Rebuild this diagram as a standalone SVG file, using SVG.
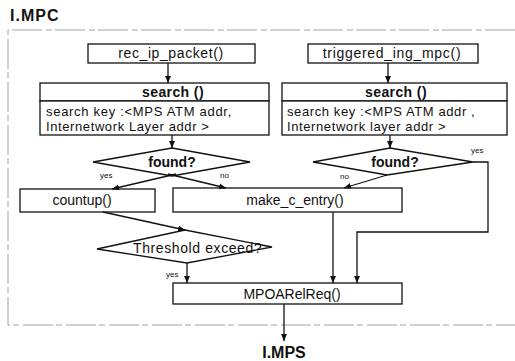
<svg xmlns="http://www.w3.org/2000/svg" width="515" height="361" viewBox="0 0 515 361">
<style>
text{font-family:"Liberation Sans",Arial,sans-serif;fill:#111}
.t{font-size:14px}
.b{font-weight:bold}
.k{font-size:13px}
.c{text-anchor:middle}
.lb{font-size:8px}
.h{font-size:16px;font-weight:bold}
.box{fill:#fff;stroke:#111;stroke-width:1.3}
.ln{fill:none;stroke:#111;stroke-width:1.3}
.frame{fill:none;stroke:#999;stroke-width:0.9;stroke-dasharray:30 3 6 4}
</style>
<defs>
<marker id="ah" markerWidth="8" markerHeight="8" refX="7" refY="4" orient="auto" markerUnits="userSpaceOnUse">
<path d="M0,1 L7,4 L0,7 Z" fill="#111"/>
</marker>
</defs>
<rect width="515" height="361" fill="#fff"/>
<text class="h" x="10" y="21" letter-spacing="1">I.MPC</text>
<path class="frame" d="M515,30 H8 V325 H515"/>

<g id="rec_ip_packet">
<rect class="box" x="88" y="44" width="167" height="19"/>
<text class="t c" x="171" y="58" letter-spacing="0.6">rec_ip_packet()</text>
</g>
<g id="triggered_ing_mpc">
<rect class="box" x="308" y="44" width="170" height="19"/>
<text class="t c" x="392" y="58" letter-spacing="0.7">triggered_ing_mpc()</text>
</g>
<g id="search_left">
<rect class="box" x="40" y="83" width="229" height="18"/>
<rect class="box" x="40" y="101" width="229" height="34"/>
<text class="t b c" x="173" y="97" letter-spacing="0.4">search ()</text>
<text class="k" x="46" y="116" letter-spacing="0.7">search key :&lt;MPS ATM addr,</text>
<text class="k" x="46" y="131" letter-spacing="0.6">Internetwork Layer  addr &gt;</text>
</g>
<g id="search_right">
<rect class="box" x="282" y="83" width="225" height="18"/>
<rect class="box" x="282" y="101" width="225" height="34"/>
<text class="t b c" x="396" y="97" letter-spacing="0.4">search ()</text>
<text class="k" x="287" y="116" letter-spacing="0.6">search key :&lt;MPS ATM addr ,</text>
<text class="k" x="287" y="131" letter-spacing="0.6">Internetwork layer addr &gt;</text>
</g>
<g id="found_left">
<polygon class="box" points="93,162 172,148 250,162 172,176"/>
<text class="t b c" x="172" y="167">found?</text>
</g>
<g id="found_right">
<polygon class="box" points="313,162 390,148 473,162 387,175"/>
<text class="t b c" x="395" y="167">found?</text>
</g>
<g id="countup">
<rect class="box" x="20" y="189" width="135" height="23"/>
<text class="t c" x="82" y="205">countup()</text>
</g>
<g id="make_c_entry">
<rect class="box" x="173" y="188" width="229" height="24"/>
<text class="t c" x="295" y="205">make_c_entry()</text>
</g>
<g id="threshold">
<polygon class="box" points="97,249 185,230 272,247 187,263"/>
<text class="t" x="133" y="253" font-size="15" letter-spacing="0.6">Threshold exceed?</text>
</g>
<g id="mpoarelreq">
<rect class="box" x="173" y="283" width="229" height="21"/>
<text class="t c" x="292" y="299">MPOARelReq()</text>
</g>
<text class="h c" x="284" y="358" font-size="15">I.MPS</text>

<g id="connectors">
<line class="ln" x1="168" y1="63" x2="168" y2="83" marker-end="url(#ah)"/>
<line class="ln" x1="388" y1="63" x2="388" y2="83" marker-end="url(#ah)"/>
<line class="ln" x1="172" y1="135" x2="172" y2="148" marker-end="url(#ah)"/>
<line class="ln" x1="390" y1="135" x2="390" y2="148" marker-end="url(#ah)"/>
<line class="ln" x1="176" y1="174" x2="112" y2="189" marker-end="url(#ah)"/>
<line class="ln" x1="168" y1="174" x2="226" y2="188" marker-end="url(#ah)"/>
<line class="ln" x1="387" y1="175" x2="344" y2="188" marker-end="url(#ah)"/>
<polyline class="ln" points="473,162 488,162 488,232 357,232 357,283" marker-end="url(#ah)"/>
<line class="ln" x1="333" y1="212" x2="333" y2="283" marker-end="url(#ah)"/>
<line class="ln" x1="103" y1="212" x2="185" y2="230" marker-end="url(#ah)"/>
<line class="ln" x1="187" y1="263" x2="187" y2="283" marker-end="url(#ah)"/>
<line class="ln" x1="284" y1="304" x2="284" y2="341" marker-end="url(#ah)"/>
<text class="lb" x="100" y="178">yes</text>
<text class="lb" x="220" y="178">no</text>
<text class="lb" x="340" y="179">no</text>
<text class="lb" x="471" y="153">yes</text>
<text class="lb" x="166" y="277">yes</text>
</g>
</svg>
